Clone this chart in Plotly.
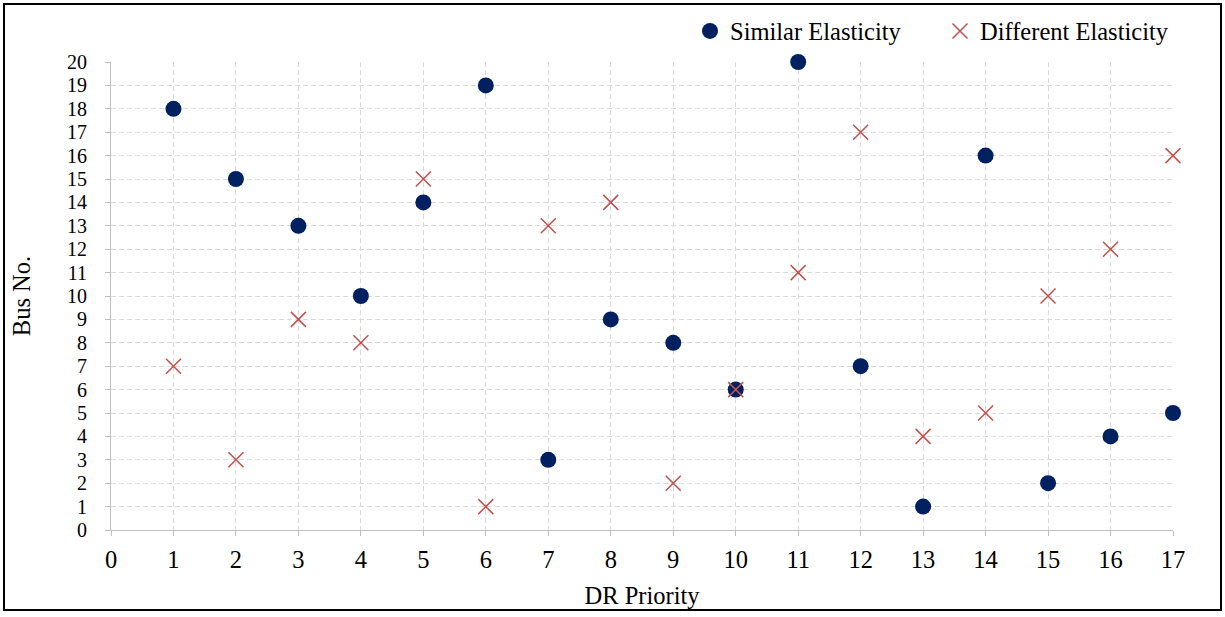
import plotly.graph_objects as go

dr_priority = list(range(1, 18))
similar_bus = [18, 15, 13, 10, 14, 19, 3, 9, 8, 6, 20, 7, 1, 16, 2, 4, 5]
different_bus = [7, 3, 9, 8, 15, 1, 13, 14, 2, 6, 11, 17, 4, 5, 10, 12, 16]
x_ticks = list(range(0, 18))
y_ticks = list(range(0, 21))

FONT = "Liberation Serif, Times New Roman, serif"
FS = 24.5
FS_Y = 20

fig = go.Figure()
fig.add_trace(go.Scatter(
    x=dr_priority, y=similar_bus, mode="markers", name="Similar Elasticity",
    marker=dict(symbol="circle", size=16, color="#002060", line=dict(width=0)),
    cliponaxis=False, legend="legend",
))
fig.add_trace(go.Scatter(
    x=dr_priority, y=different_bus, mode="markers", name="Different Elasticity",
    marker=dict(symbol="x-thin", size=15, color="#C0504D",
                line=dict(width=1.5, color="#C0504D")),
    cliponaxis=False, legend="legend2",
))

axis_common = dict(
    showgrid=True, gridcolor="#D9D9D9", griddash="5px,3px", gridwidth=1,
    showline=True, linecolor="#BFBFBF", linewidth=1,
    ticks="outside", ticklen=5, tickcolor="#BFBFBF",
    zeroline=False,
)

fig.update_xaxes(range=[0, 17], tickvals=x_ticks, ticklabelstandoff=3,
                 tickfont=dict(family=FONT, size=FS, color="black"),
                 title=dict(text="DR Priority", font=dict(family=FONT, size=FS, color="black"), standoff=14),
                 **axis_common)
fig.update_yaxes(range=[0, 20], tickvals=y_ticks, ticklabelstandoff=14,
                 tickfont=dict(family=FONT, size=FS_Y, color="black"),
                 title=dict(text="Bus No.", font=dict(family=FONT, size=FS, color="black"), standoff=29),
                 **axis_common)

legend_common = dict(orientation="h", xanchor="left", y=(530-31)/468, yanchor="middle",
                     font=dict(family=FONT, size=FS, color="black"),
                     bgcolor="rgba(0,0,0,0)", itemwidth=30)

fig.update_layout(
    width=1225, height=617,
    margin=dict(l=111, r=52, t=62, b=87, autoexpand=False),
    plot_bgcolor="white", paper_bgcolor="white",
    font=dict(family=FONT, size=FS, color="black"),
    showlegend=True,
    legend=dict(x=(690-111)/1062, **legend_common),
    legend2=dict(x=(940-111)/1062, **legend_common),
    shapes=[dict(type="rect", xref="paper", yref="paper",
                 x0=(4-111)/1062, x1=(1221-111)/1062,
                 y0=(530-610)/468, y1=(530-4)/468,
                 line=dict(color="black", width=2), layer="below")],
)

fig.write_html("out.html", config={"displayModeBar": False},
               post_script="document.body.style.margin='0';document.body.style.overflow='hidden';")
